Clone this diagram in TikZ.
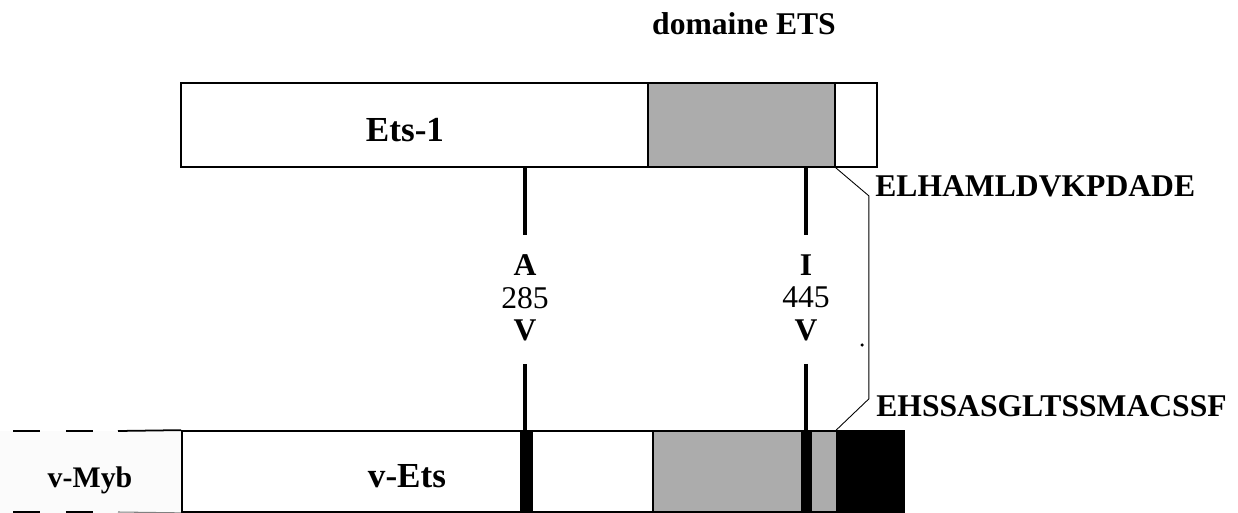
\documentclass[tikz,border=0pt]{standalone}
\usepackage{fontspec}
\setmainfont{Liberation Serif}
\usetikzlibrary{positioning,calc}

\begin{document}
\begin{tikzpicture}[
    x=0.02cm, y=-0.02cm,
    node distance=0.22cm,
    protein/.style={rectangle, draw=black, line width=1pt, fill=white, inner sep=0pt},
    etsdom/.style={rectangle, draw=black, line width=1pt, fill=gray!65, inner sep=0pt},
    bar/.style={rectangle, fill=black, inner sep=0pt},
    protlab/.style={font=\fontsize{20}{24}\selectfont\bfseries, inner sep=0pt, anchor=base},
    seqlab/.style={font=\fontsize{18}{22}\selectfont\bfseries, inner sep=0pt, anchor=west},
    aa/.style={font=\fontsize{18}{22}\selectfont\bfseries, inner sep=0pt},
    numlab/.style={font=\fontsize{18}{22}\selectfont, inner sep=0pt},
    mut/.style={line width=2.8pt},
    bracket/.style={line width=0.5pt}
]
    \useasboundingbox (0,0) rectangle (1238,513);

    % Ets-1
    \node[protein, minimum width=13.92cm, minimum height=1.68cm] (ets1) at (529,125) {};
    \node[etsdom, minimum width=3.74cm, minimum height=1.68cm] (dom1) at (741.5,125) {};
    \node[protlab] (ets1lab) at (405,142) {Ets-1};
    \node[protlab, font=\fontsize{18}{22}\selectfont\bfseries] (domlab) at (744,35) {domaine ETS};

    % v-Myb / v-Ets
    \node[protein, minimum width=14.44cm, minimum height=1.62cm] (vets) at (543,471.5) {};
    \node[etsdom, minimum width=3.68cm, minimum height=1.62cm] (dom2) at (745,471.5) {};
    \node[bar, draw=black, line width=1pt, minimum width=1.34cm, minimum height=1.62cm] (blk) at (870.5,471.5) {};
    \node[bar, minimum width=0.26cm, minimum height=1.62cm] (barA) at (526.5,471.5) {};
    \node[bar, minimum width=0.22cm, minimum height=1.62cm] (barI) at (806.5,471.5) {};
    \fill[gray!3] (0,431) rectangle (vets.south west);
    \draw[line width=1pt, dash pattern=on 0.54cm off 0.52cm] (13,431) -- (118,431);
    \draw[line width=1pt] (118,431) -- (vets.north west);
    \draw[line width=1pt, dash pattern=on 0.54cm off 0.52cm] (13,512) -- (118,512);
    \draw[line width=0.6pt, gray] (118,512) -- (vets.south west);
    \node[protlab] (vetslab) at (407,487) {v-Ets};
    \node[protlab, font=\fontsize{17}{20}\selectfont\bfseries] (myblab) at (90,487) {v-Myb};

    % mutations
    \node[aa] (mutA) at (525,265) {A};
    \node[numlab, below=of mutA] (n285) {285};
    \node[aa, below=of n285] (mutAV) {V};
    \node[aa] (mutI) at (806,265) {I};
    \node[numlab, below=of mutI] (n445) {445};
    \node[aa, below=of n445] (mutIV) {V};

    \draw[mut, shorten >=0.39cm] (ets1.south -| mutA) -- (mutA.north);
    \draw[mut, shorten <=0.45cm] (mutAV.south) -- (vets.north -| mutAV);
    \draw[mut, shorten >=0.39cm] (ets1.south -| mutI) -- (mutI.north);
    \draw[mut, shorten <=0.45cm] (mutIV.south) -- (vets.north -| mutIV);

    % C-terminal ends
    \node[seqlab] (seq1) at (875,186) {ELHAMLDVKPDADE};
    \node[seqlab] (seq2) at (876,406) {EHSSASGLTSSMACSSF};
    \draw[bracket] (dom1.south east) -- ++(33,28) -- ++(0,203) -- (blk.north west);
    \fill (862,345) circle (1pt);
\end{tikzpicture}
\end{document}
